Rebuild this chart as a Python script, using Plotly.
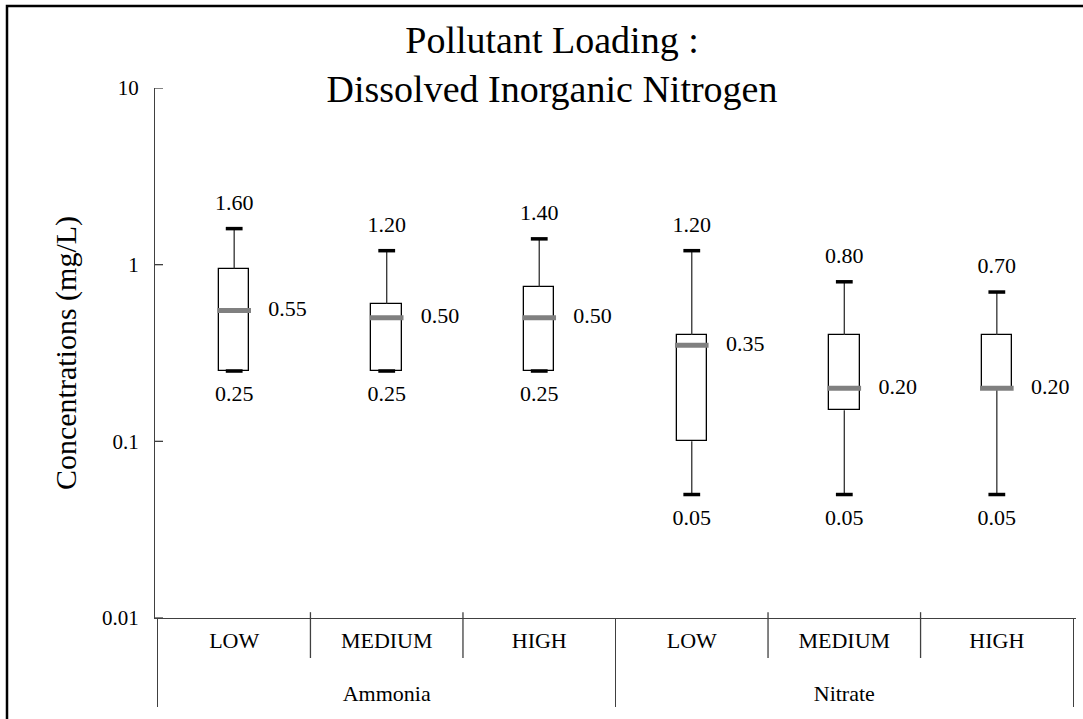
import plotly.graph_objects as go

# ---- data ----
groups = ["Ammonia", "Ammonia", "Ammonia", "Nitrate", "Nitrate", "Nitrate"]
levels = ["LOW", "MEDIUM", "HIGH", "LOW", "MEDIUM", "HIGH"]
mins = [0.25, 0.25, 0.25, 0.05, 0.05, 0.05]
q1s = [0.25, 0.25, 0.25, 0.10, 0.15, 0.20]
medians = [0.55, 0.50, 0.50, 0.35, 0.20, 0.20]
q3s = [0.95, 0.60, 0.75, 0.40, 0.40, 0.40]
maxs = [1.60, 1.20, 1.40, 1.20, 0.80, 0.70]
y_ticks = [0.01, 0.1, 1, 10]
y_ticktext = ["0.01", "0.1", "1", "10"]

FONT = "Liberation Serif, Times New Roman, serif"
AX = "#404040"

# outer group labels pushed one line lower (as in the reference layout)
group_lbl = ["<br>" + g for g in groups]
X = [group_lbl, levels]

fig = go.Figure()

# boxes
fig.add_trace(go.Bar(
    x=X, base=q1s, y=[b - a for a, b in zip(q1s, q3s)],
    width=0.2, marker=dict(color="white", line=dict(color="black", width=1.3)),
    hoverinfo="skip", showlegend=False))

# whiskers
wx_g, wx_l, wy = [], [], []
for g, l, lo, a, b, hi in zip(group_lbl, levels, mins, q1s, q3s, maxs):
    wx_g += [g] * 6
    wx_l += [l] * 6
    wy += [lo, a, None, b, hi, None]
fig.add_trace(go.Scatter(x=[wx_g, wx_l], y=wy, mode="lines",
                         line=dict(color="#303030", width=1.3),
                         connectgaps=False, hoverinfo="skip", showlegend=False))

# caps
for vals in (mins, maxs):
    fig.add_trace(go.Scatter(
        x=X, y=vals, mode="markers",
        marker=dict(symbol="line-ew", size=12, line=dict(color="black", width=3.5)),
        hoverinfo="skip", showlegend=False))

# medians
fig.add_trace(go.Scatter(
    x=X, y=medians, mode="markers",
    marker=dict(symbol="line-ew", size=24, line=dict(color="#808080", width=5)),
    hoverinfo="skip", showlegend=False))

# labels
tf = dict(family=FONT, size=22, color="black")
for vals, pos, msize in ((maxs, "top center", 20), (mins, "bottom center", 20),
                         (medians, "middle right", 53)):
    fig.add_trace(go.Scatter(
        x=X, y=vals, mode="markers+text",
        text=[f"{v:.2f}" for v in vals], textposition=pos, textfont=tf,
        marker=dict(size=msize, color="rgba(0,0,0,0)"),
        hoverinfo="skip", showlegend=False))

shapes = []
# inner category dividers
for i in range(1, len(levels)):
    if groups[i] == groups[i - 1]:
        shapes.append(dict(type="line", xref="x", yref="paper",
                           x0=i - 0.5, x1=i - 0.5, y0=0.011, y1=-0.0755,
                           line=dict(color=AX, width=1.3)))
# inward-pointing y ticks
for v in y_ticks:
    shapes.append(dict(type="line", xref="paper", yref="y",
                       x0=0, x1=8 / 921, y0=v, y1=v,
                       line=dict(color=AX, width=1.3)))
# outer frame
shapes.append(dict(type="rect", xref="paper", yref="paper",
                   x0=(7 - 155) / 921, x1=1.2, y0=-0.4, y1=(618 - 6) / 530,
                   line=dict(color="black", width=2.5), layer="above"))

fig.update_layout(
    width=1083, height=719,
    margin=dict(l=155, r=7, t=88, b=101, autoexpand=False),
    paper_bgcolor="white", plot_bgcolor="white",
    font=dict(family=FONT, size=22, color="black"),
    title=dict(text="Pollutant Loading :<br>Dissolved Inorganic Nitrogen",
               font=dict(family=FONT, size=38, color="black"),
               x=552 / 1083, xref="container", xanchor="center",
               y=1 - 53 / 719, yref="container", yanchor="top"),
    xaxis=dict(type="multicategory", showline=True, linecolor=AX, linewidth=1.3,
               ticks="", showgrid=False, showdividers=True,
               dividercolor=AX, dividerwidth=1.3, ticklabelstandoff=2,
               automargin=False,
               tickfont=dict(family=FONT, size=22, color="black")),
    yaxis=dict(type="log", range=[-2, 1], tickvals=y_ticks, ticktext=y_ticktext,
               ticks="outside", ticklen=11, tickcolor="rgba(0,0,0,0)",
               showline=True, linecolor=AX, linewidth=1.3,
               showgrid=False, zeroline=False, automargin=False,
               tickfont=dict(family=FONT, size=21, color="black"),
               title=dict(text="Concentrations (mg/L)",
                          font=dict(family=FONT, size=30, color="black"),
                          standoff=16)),
    shapes=shapes,
    bargap=0,
)

fig.write_html("out.html", config={"displayModeBar": False},
               post_script="document.body.style.margin='0';")
